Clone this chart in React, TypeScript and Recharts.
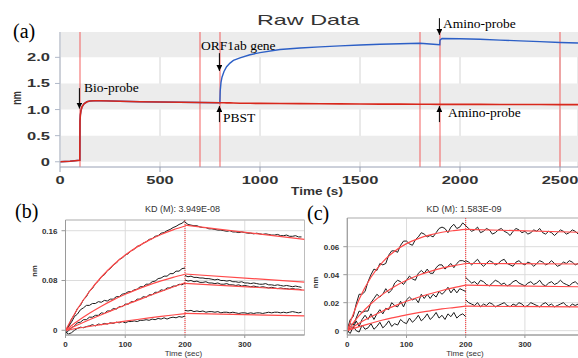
import React from "react";
import { LineChart, Line, XAxis, YAxis, CartesianGrid, ReferenceLine, ReferenceArea } from "recharts";

const SANS = "Arial, 'Liberation Sans', sans-serif";
const SERIF = "'Times New Roman', 'Liberation Serif', serif";

// ---------- (a) raw data, nm vs time (s) ----------
const RAW_TIME = [0, 50, 99, 100, 102, 105, 110, 120, 135, 150, 175, 200, 300, 400, 500, 600, 700, 799, 800, 801, 805, 810, 820, 833, 850, 867, 900, 950, 1000, 1100, 1200, 1300, 1400, 1500, 1600, 1700, 1800, 1850, 1899, 1900, 1910, 2000, 2100, 2200, 2300, 2400, 2500, 2590];
const RAW_REFERENCE = [0.0, 0.01, 0.03, 0.78, 0.9, 0.98, 1.05, 1.11, 1.15, 1.165, 1.17, 1.17, 1.16, 1.15, 1.145, 1.14, 1.135, 1.13, 1.13, 1.13, 1.13, 1.13, 1.13, 1.128, 1.127, 1.125, 1.122, 1.12, 1.118, 1.115, 1.113, 1.11, 1.108, 1.106, 1.104, 1.103, 1.102, 1.101, 1.1, 1.1, 1.1, 1.1, 1.099, 1.098, 1.097, 1.096, 1.095, 1.094];
const RAW_SAMPLE = [0.0, 0.01, 0.03, 0.78, 0.9, 0.98, 1.05, 1.11, 1.15, 1.165, 1.17, 1.17, 1.16, 1.15, 1.145, 1.14, 1.135, 1.13, 1.22, 1.35, 1.52, 1.62, 1.73, 1.82, 1.89, 1.94, 1.99, 2.05, 2.09, 2.15, 2.18, 2.2, 2.22, 2.235, 2.25, 2.26, 2.27, 2.255, 2.24, 2.33, 2.36, 2.355, 2.345, 2.33, 2.315, 2.3, 2.285, 2.275];
const RAW_STEPS = [100, 700, 800, 1800, 1900, 2500];
const RAW_X_TICKS = [0, 500, 1000, 1500, 2000, 2500];
const RAW_Y_TICKS = [0, 0.5, 1, 1.5, 2];
const RAW_X_MINOR = [0, 100, 200, 300, 400, 500, 600, 700, 800, 900, 1000, 1100, 1200, 1300, 1400, 1500, 1600, 1700, 1800, 1900, 2000, 2100, 2200, 2300, 2400, 2500];
const RAW_Y_MINOR = [-0.1, 0, 0.1, 0.2, 0.3, 0.4, 0.5, 0.6, 0.7, 0.8, 0.9, 1, 1.1, 1.2, 1.3, 1.4, 1.5, 1.6, 1.7, 1.8, 1.9, 2, 2.1, 2.2, 2.3, 2.4];
const RAW_BANDS = [[0, 0.5], [1, 1.5], [2, 2.485]];
// annotation arrows: time, from (nm), to (nm)
const RAW_ARROWS = [
  { t: 97, from: 1.41, to: 1.02 },
  { t: 797, from: 2.08, to: 1.74 },
  { t: 797, from: 0.76, to: 1.066 },
  { t: 1897, from: 2.75, to: 2.43 },
  { t: 1897, from: 0.76, to: 1.066 },
];

// ---------- (b), (c) kinetics, values in 1e-3 nm ----------
const ASSOC_T = [0, 5, 10, 15, 20, 25, 30, 35, 40, 45, 50, 55, 60, 65, 70, 75, 80, 85, 90, 95, 100, 105, 110, 115, 120, 125, 130, 135, 140, 145, 150, 155, 160, 165, 170, 175, 180, 185, 190, 195, 200];
const DISS_T = [200, 205, 210, 215, 220, 225, 230, 235, 240, 245, 250, 255, 260, 265, 270, 275, 280, 285, 290, 295, 300, 305, 310, 315, 320, 325, 330, 335, 340, 345, 350, 355, 360, 365, 370, 375, 380, 385, 390, 395];
const FIT_ASSOC_T = [0, 20, 40, 60, 80, 100, 120, 140, 160, 180, 200];
const FIT_DISS_T = [200, 400];

const B_ASSOC_1 = [-2, 7, 18, 25, 35, 40, 49, 54, 63, 67, 75, 79, 86, 89, 96, 99, 105, 108, 114, 116, 121, 123, 128, 130, 135, 136, 140, 142, 146, 147, 151, 152, 156, 157, 160, 162, 165, 167, 170, 172, 176];
const B_DISS_1 = [174, 170, 169, 168, 168, 166, 165, 165, 163, 163, 162, 161, 161, 160, 159, 160, 158, 158, 157, 158, 157, 156, 156, 155, 156, 155, 154, 155, 154, 153, 153, 154, 152, 152, 153, 151, 151, 152, 150, 150];
const B_ASSOC_2 = [-4, 6, 13, 22, 26, 33, 36, 40, 40, 43, 43, 46, 45, 48, 47, 50, 50, 54, 54, 58, 59, 62, 62, 65, 66, 70, 70, 74, 74, 78, 79, 83, 84, 87, 87, 91, 91, 95, 95, 99, 100];
const B_DISS_2 = [88, 86, 87, 85, 85, 84, 84, 83, 83, 82, 81, 82, 80, 80, 79, 80, 78, 78, 77, 78, 76, 76, 75, 76, 75, 74, 74, 75, 73, 73, 72, 73, 72, 71, 72, 71, 70, 71, 70, 69];
const B_ASSOC_3 = [-5, -1, 4, 7, 12, 13, 17, 17, 21, 21, 24, 24, 28, 27, 31, 31, 35, 34, 38, 38, 42, 42, 46, 46, 50, 50, 54, 53, 57, 57, 61, 61, 65, 64, 68, 68, 71, 71, 74, 73, 76];
const B_DISS_3 = [81, 79, 80, 78, 79, 77, 77, 78, 76, 76, 75, 76, 74, 74, 75, 73, 73, 72, 73, 71, 72, 71, 70, 71, 70, 69, 70, 69, 68, 69, 68, 67, 68, 67, 67, 66, 67, 66, 66, 65];
const B_ASSOC_4 = [-3, -6, -4, 0, 3, 5, 4, 6, 7, 9, 7, 10, 9, 11, 10, 12, 11, 13, 12, 14, 12, 14, 14, 15, 14, 16, 16, 17, 16, 18, 17, 19, 18, 20, 18, 20, 21, 20, 22, 21, 23];
const B_DISS_4 = [32, 31, 32, 30, 31, 30, 31, 29, 30, 30, 29, 30, 28, 29, 29, 28, 29, 28, 27, 28, 28, 27, 28, 27, 28, 28, 27, 28, 29, 28, 29, 29, 28, 29, 28, 29, 30, 29, 28, 29];
const B_FIT_1 = [0, 34.1, 62.3, 85.6, 104.9, 120.8, 134.0, 144.9, 153.9, 161.4, 167.5];
const B_FIT_2 = [0, 14.4, 27.2, 38.6, 48.8, 57.8, 65.8, 73.0, 79.3, 85.0, 90.0];
const B_FIT_3 = [0, 8.5, 16.8, 24.9, 32.8, 40.6, 48.0, 55.4, 62.5, 69.5, 76.3];
const B_FIT_4 = [0, 3.2, 6.2, 9.2, 12.0, 14.7, 17.3, 19.8, 22.2, 24.5, 26.7];
const B_FIT_D1 = [169, 146];
const B_FIT_D2 = [90.4, 77.5];
const B_FIT_D3 = [75.5, 64.5];
const B_FIT_D4 = [27, 23];

const C_ASSOC_1 = [1, 8, 10, 19, 26, 26, 28, 35, 40, 44, 43, 48, 47, 48, 54, 57, 57, 56, 61, 64, 64, 62, 61, 65, 67, 70, 69, 67, 68, 67, 70, 73, 74, 73, 70, 74, 76, 73, 74, 77, 75];
const C_DISS_1 = [75, 73, 71, 72, 74, 70, 71, 73, 72, 69, 70, 72, 73, 71, 70, 68, 71, 73, 72, 70, 71, 69, 70, 72, 71, 73, 70, 69, 71, 70, 68, 70, 72, 71, 69, 70, 72, 71, 69, 70];
const C_ASSOC_2 = [0, 5, 4, 9, 14, 13, 14, 14, 20, 23, 26, 24, 26, 30, 27, 29, 34, 36, 35, 33, 36, 39, 37, 36, 41, 43, 41, 44, 41, 41, 45, 47, 47, 44, 46, 48, 45, 48, 50, 50, 49];
const C_DISS_2 = [50, 49, 47, 49, 51, 48, 46, 48, 50, 49, 47, 48, 50, 51, 48, 47, 46, 49, 50, 48, 47, 49, 48, 46, 48, 50, 49, 47, 48, 50, 48, 46, 47, 49, 48, 50, 49, 47, 48, 47];
const C_ASSOC_3 = [-2, 3, 2, 7, 3, 8, 11, 8, 12, 8, 12, 15, 12, 16, 15, 20, 18, 17, 21, 17, 22, 24, 22, 23, 20, 26, 23, 26, 23, 26, 24, 28, 26, 28, 31, 27, 30, 27, 30, 29, 28];
const C_DISS_3 = [38, 36, 34, 35, 33, 36, 35, 33, 32, 34, 36, 35, 33, 34, 32, 33, 35, 36, 34, 33, 32, 34, 35, 33, 34, 36, 33, 32, 34, 35, 33, 34, 36, 34, 33, 32, 34, 35, 33, 34];
const C_ASSOC_4 = [0, -2, 3, 0, -1, 4, 1, 2, 5, 1, 3, 6, 2, 4, 7, 3, 5, 4, 8, 6, 5, 9, 6, 8, 11, 7, 9, 12, 8, 10, 13, 9, 11, 8, 12, 10, 13, 9, 11, 12, 10];
const C_DISS_4 = [22, 20, 19, 18, 20, 17, 19, 18, 20, 19, 17, 18, 19, 20, 18, 17, 19, 18, 20, 19, 17, 18, 20, 19, 18, 17, 19, 20, 18, 19, 17, 18, 19, 20, 18, 17, 19, 18, 19, 18];
const C_FIT_1 = [0, 22.5, 38.2, 49.2, 56.8, 62.2, 65.8, 68.4, 70.3, 71.5, 72.4];
const C_FIT_2 = [0, 10.7, 19.2, 26.1, 31.6, 36.0, 39.6, 42.4, 44.7, 46.5, 48.0];
const C_FIT_3 = [0, 5.3, 9.9, 14.1, 17.7, 21.0, 23.9, 26.4, 28.7, 30.7, 32.5];
const C_FIT_4 = [0, 2.9, 5.3, 7.6, 9.5, 11.3, 12.9, 14.2, 15.5, 16.5, 17.5];
const C_FIT_D1 = [72.4, 70.2];
const C_FIT_D2 = [48, 47.6];
const C_FIT_D3 = [32.5, 31.3];
const C_FIT_D4 = [17.5, 16.9];

const KIN_X_TICKS = [0, 100, 200, 300];
const KIN_X_MINOR = [0, 20, 40, 60, 80, 100, 120, 140, 160, 180, 200, 220, 240, 260, 280, 300, 320, 340, 360, 380, 400];
const B_Y_TICKS = [0, 80, 160];
const B_Y_MINOR = [0, 20, 40, 60, 80, 100, 120, 140, 160];
const C_Y_TICKS = [0, 20, 40, 60];
const C_Y_MINOR = [0, 5, 10, 15, 20, 25, 30, 35, 40, 45, 50, 55, 60, 65, 70, 75, 80];

const pts = (ts: number[], vs: number[]) => ts.map((t, i) => ({ t, v: vs[i] }));
const rawData = RAW_TIME.map((t, i) => ({ t, sample: RAW_SAMPLE[i], reference: RAW_REFERENCE[i] }));

const B_TRACES = [
  [B_ASSOC_1, B_DISS_1, B_FIT_1, B_FIT_D1],
  [B_ASSOC_2, B_DISS_2, B_FIT_2, B_FIT_D2],
  [B_ASSOC_3, B_DISS_3, B_FIT_3, B_FIT_D3],
  [B_ASSOC_4, B_DISS_4, B_FIT_4, B_FIT_D4],
];
const C_TRACES = [
  [C_ASSOC_1, C_DISS_1, C_FIT_1, C_FIT_D1],
  [C_ASSOC_2, C_DISS_2, C_FIT_2, C_FIT_D2],
  [C_ASSOC_3, C_DISS_3, C_FIT_3, C_FIT_D3],
  [C_ASSOC_4, C_DISS_4, C_FIT_4, C_FIT_D4],
];

const noTick = () => null;

function RawXTick(p: any) {
  return (
    <g transform={`translate(${p.x},${p.y})`}>
      <text transform="scale(1.5,1)" textAnchor="middle" dy="0.71em" fontSize={11} fontWeight="bold" fill="#333" fontFamily={SANS}>
        {p.payload.value}
      </text>
    </g>
  );
}

function RawYTick(p: any) {
  const v = p.payload.value;
  return (
    <g transform={`translate(${p.x},${p.y})`}>
      <text transform="scale(1.5,1)" textAnchor="end" dy="0.36em" fontSize={11} fontWeight="bold" fill="#333" fontFamily={SANS}>
        {v === 0 ? "0" : v.toFixed(1)}
      </text>
    </g>
  );
}

function KinXTick(p: any) {
  return (
    <text x={p.x} y={p.y} dy="0.71em" textAnchor="middle" fontSize={8} fontWeight="bold" fill="#333" fontFamily={SANS}>
      {p.payload.value}
    </text>
  );
}

function KinYTick(p: any) {
  const v = p.payload.value;
  return (
    <text x={p.x} y={p.y} dy="0.36em" textAnchor="end" fontSize={8} fontWeight="bold" fill="#333" fontFamily={SANS}>
      {v === 0 ? "0" : (v / 1000).toFixed(2)}
    </text>
  );
}

const arrowShape = (p: any) => (
  <line x1={p.x1} y1={p.y1} x2={p.x2} y2={p.y2} stroke="#000" strokeWidth={1} markerEnd="url(#arrowHead)" />
);

function RawPanel() {
  return (
    <LineChart width={578} height={200} data={rawData} margin={{ top: 32, right: 0, bottom: 0, left: 10 }}>
      {RAW_BANDS.map((b, i) => (
        <ReferenceArea key={"band" + i} y1={b[0]} y2={b[1]} x1={0} x2={2590} fill="#ececec" fillOpacity={1} stroke="none" ifOverflow="hidden" />
      ))}
      <CartesianGrid horizontal={false} stroke="#d4d4d4" />
      <XAxis dataKey="t" type="number" domain={[0, 2590]} ticks={RAW_X_TICKS} interval={0} allowDataOverflow height={33}
        tickSize={5} tickMargin={4} stroke="#98a0b4" tick={RawXTick} />
      <XAxis xAxisId="minor" dataKey="t" type="number" domain={[0, 2590]} ticks={RAW_X_MINOR} interval={0} allowDataOverflow
        mirror height={0} tickSize={4} axisLine={false} tickLine={{ stroke: "#aab6dd" }} tick={noTick} />
      <YAxis type="number" domain={[-0.1, 2.485]} ticks={RAW_Y_TICKS} interval={0} allowDataOverflow width={50}
        tickSize={5} tickMargin={5} stroke="#b0b8c8" tick={RawYTick} />
      <YAxis yAxisId="minor" type="number" domain={[-0.1, 2.485]} ticks={RAW_Y_MINOR} interval={0} allowDataOverflow
        mirror width={0} tickSize={5} axisLine={false} tickLine={{ stroke: "#b4bfe0" }} tick={noTick} />
      {RAW_STEPS.map((s) => (
        <ReferenceLine key={"step" + s} x={s} stroke="#f25555" strokeWidth={1.1} strokeOpacity={0.85} />
      ))}
      <Line dataKey="sample" stroke="#2c5fc6" strokeWidth={1.4} dot={false} activeDot={false} type="linear" isAnimationActive={false} />
      <Line dataKey="reference" stroke="#d8281c" strokeWidth={1.6} dot={false} activeDot={false} type="linear" isAnimationActive={false} />
      {RAW_ARROWS.map((a, i) => (
        <ReferenceLine key={"arrow" + i} segment={[{ x: a.t, y: a.from }, { x: a.t, y: a.to }]} ifOverflow="visible" shape={arrowShape} />
      ))}
    </LineChart>
  );
}

function KineticsPanel(props: any) {
  const { width, margin, yAxisWidth, yDomain, yTicks, yMinor, traces } = props;
  return (
    <LineChart width={width} height={158} margin={margin}>
      <CartesianGrid stroke="#dcdcdc" />
      <ReferenceArea x1={0} x2={400} y1={yDomain[0]} y2={yDomain[1]} fill="none" stroke="#bdbdbd" />
      <XAxis dataKey="t" type="number" domain={[0, 400]} ticks={KIN_X_TICKS} interval={0} allowDataOverflow height={23}
        tickSize={3} tickMargin={3} stroke="#9a9a9a" tick={KinXTick} />
      <XAxis xAxisId="minor" dataKey="t" type="number" domain={[0, 400]} ticks={KIN_X_MINOR} interval={0} allowDataOverflow
        mirror height={0} tickSize={3} axisLine={false} tickLine={{ stroke: "#999" }} tick={noTick} />
      <YAxis type="number" domain={yDomain} ticks={yTicks} interval={0} allowDataOverflow width={yAxisWidth}
        tickSize={4} tickMargin={4} stroke="#9a9a9a" tick={KinYTick} />
      <YAxis yAxisId="minor" type="number" domain={yDomain} ticks={yMinor} interval={0} allowDataOverflow
        mirror width={0} tickSize={3} axisLine={false} tickLine={{ stroke: "#999" }} tick={noTick} />
      <ReferenceLine x={200} stroke="#ff3030" strokeDasharray="1 1" />
      {traces.map((tr: number[][], i: number) => (
        <Line key={"a" + i} data={pts(ASSOC_T, tr[0])} dataKey="v" stroke="#1c1c1c" strokeWidth={1} dot={false} activeDot={false} type="linear" isAnimationActive={false} />
      ))}
      {traces.map((tr: number[][], i: number) => (
        <Line key={"d" + i} data={pts(DISS_T, tr[1])} dataKey="v" stroke="#1c1c1c" strokeWidth={1} dot={false} activeDot={false} type="linear" isAnimationActive={false} />
      ))}
      {traces.map((tr: number[][], i: number) => (
        <Line key={"fa" + i} data={pts(FIT_ASSOC_T, tr[2])} dataKey="v" stroke="#ff4a4a" strokeWidth={1.2} dot={false} activeDot={false} type="monotone" isAnimationActive={false} />
      ))}
      {traces.map((tr: number[][], i: number) => (
        <Line key={"fd" + i} data={pts(FIT_DISS_T, tr[3])} dataKey="v" stroke="#ff4a4a" strokeWidth={1.2} dot={false} activeDot={false} type="linear" isAnimationActive={false} />
      ))}
    </LineChart>
  );
}

export default function App() {
  return (
    <div style={{ position: "fixed", left: 0, top: 0, width: 578, height: 358, overflow: "hidden", background: "#fff" }}>
      <div style={{ position: "absolute", left: 0, top: 0 }}>
        <RawPanel />
      </div>
      <div style={{ position: "absolute", left: 0, top: 200 }}>
        <KineticsPanel width={310} margin={{ top: 20, right: 5.5, bottom: 0, left: 20.5 }} yAxisWidth={45}
          yDomain={[-7.6, 177.2]} yTicks={B_Y_TICKS} yMinor={B_Y_MINOR} traces={B_TRACES} />
      </div>
      <div style={{ position: "absolute", left: 290, top: 200 }}>
        <KineticsPanel width={296} margin={{ top: 18, right: 1.9, bottom: 0, left: 17.3 }} yAxisWidth={40}
          yDomain={[-3.1, 80.5]} yTicks={C_Y_TICKS} yMinor={C_Y_MINOR} traces={C_TRACES} />
      </div>
      <svg width={578} height={358} style={{ position: "absolute", left: 0, top: 0, pointerEvents: "none" }}>
        <defs>
          <marker id="arrowHead" viewBox="0 0 6 6" refX={6} refY={3} markerWidth={6} markerHeight={6} markerUnits="userSpaceOnUse" orient="auto">
            <path d="M0,0 L6,3 L0,6 z" fill="#000" />
          </marker>
        </defs>
        <text x={13} y={38} fontFamily={SERIF} fontSize={20} fill="#000">(a)</text>
        <text x={15} y={218} fontFamily={SERIF} fontSize={20} fill="#000">(b)</text>
        <text x={307} y={219.5} fontFamily={SERIF} fontSize={20} fill="#000">(c)</text>

        <text transform="translate(257,25) scale(1.67,1)" fontFamily={SANS} fontSize={14} fill="#333">Raw Data</text>
        <text transform="translate(317,195) scale(1.36,1)" textAnchor="middle" fontFamily={SANS} fontSize={10} fontWeight="bold" fill="#333">Time (s)</text>
        <text transform="translate(17,98) rotate(-90) scale(1,1.5)" y={2.4} textAnchor="middle" fontFamily={SANS} fontSize={9} fontWeight="bold" fill="#333">nm</text>

        <text x={84} y={92} fontFamily={SERIF} fontSize={13.5} fill="#000">Bio-probe</text>
        <text x={201} y={49.5} fontFamily={SERIF} fontSize={13.5} fill="#000">ORF1ab gene</text>
        <text x={223} y={121.7} fontFamily={SERIF} fontSize={13.5} fill="#000">PBST</text>
        <text x={443} y={28.3} fontFamily={SERIF} fontSize={13.5} fill="#000">Amino-probe</text>
        <text x={448} y={117.3} fontFamily={SERIF} fontSize={13.5} fill="#000">Amino-probe</text>

        <text x={182.5} y={211.5} textAnchor="middle" fontFamily={SANS} fontSize={9} fill="#333">KD (M): 3.949E-08</text>
        <text x={464} y={211.5} textAnchor="middle" fontFamily={SANS} fontSize={9} fill="#333">KD (M): 1.583E-09</text>
        <text x={183.5} y={356.2} textAnchor="middle" fontFamily={SANS} fontSize={8} fill="#333">Time (sec)</text>
        <text x={465} y={356.2} textAnchor="middle" fontFamily={SANS} fontSize={8} fill="#333">Time (sec)</text>
        <text transform="translate(35,271) rotate(-90)" y={2.2} textAnchor="middle" fontFamily={SANS} fontSize={7.5} fontWeight="bold" fill="#333">nm</text>
        <text transform="translate(315.5,282.5) rotate(-90)" y={2.2} textAnchor="middle" fontFamily={SANS} fontSize={7.5} fontWeight="bold" fill="#333">nm</text>
      </svg>
    </div>
  );
}
